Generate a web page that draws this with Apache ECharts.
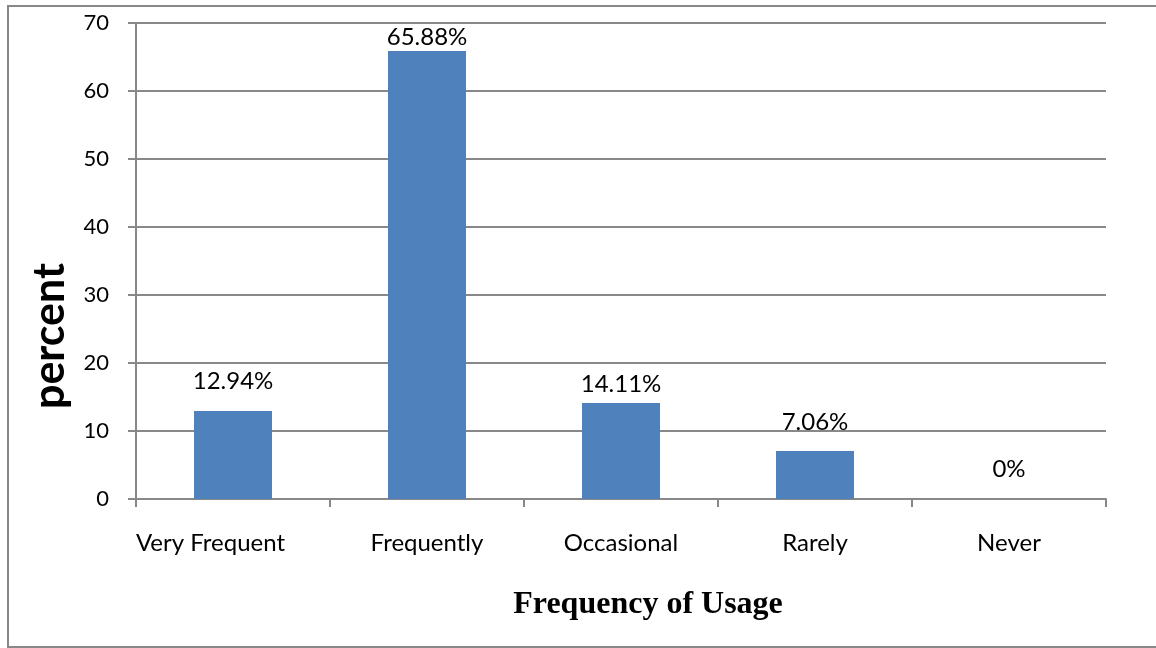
<!DOCTYPE html>
<html>
<head>
<meta charset="utf-8">
<script src="https://cdn.jsdelivr.net/npm/echarts@6/dist/echarts.min.js"></script>
<style>
  html, body { margin: 0; padding: 0; background: #fff; }
  #chart { width: 1156px; height: 648px; }
</style>
</head>
<body>
<div id="chart"></div>
<script>
// Usage frequency categories and their share in percent
const categories = ['Very Frequent', 'Frequently', 'Occasional', 'Rarely', 'Never'];
const percentValues = [12.94, 65.88, 14.11, 7.06, 0];
const valueLabels = ['12.94%', '65.88%', '14.11%', '7.06%', '0%'];
// Gap between each bar top and its label
const labelGaps = [18, 2, 7, 17, 18];

const chart = echarts.init(document.getElementById('chart'));

const barData = percentValues.map((v, i) => ({
  value: v,
  label: { distance: labelGaps[i], formatter: valueLabels[i] }
}));

// The first category label sits a little left of its slot
const categoryData = categories.map((c, i) => (
  i === 0 ? { value: c, textStyle: { padding: [0, 45, 0, 0] } } : c
));

chart.setOption({
  animation: false,
  backgroundColor: '#ffffff',
  grid: { left: 136, right: 50, top: 23, bottom: 149, containLabel: false },
  graphic: [
    {
      type: 'rect',
      shape: { x: 8, y: 6, width: 1160, height: 641 },
      style: { fill: 'none', stroke: '#888888', lineWidth: 2 },
      silent: true
    },
    {
      type: 'text',
      x: 50, y: 336,
      rotation: Math.PI / 2,
      style: {
        text: 'percent',
        font: 'bold 43px Lato, "Open Sans", sans-serif',
        fill: '#000',
        align: 'center',
        verticalAlign: 'middle'
      }
    },
    {
      type: 'text',
      x: 648, y: 605,
      style: {
        text: 'Frequency of Usage',
        font: 'bold 32px "Liberation Serif", "Times New Roman", serif',
        fill: '#000',
        align: 'center',
        verticalAlign: 'middle'
      }
    }
  ],
  xAxis: {
    type: 'category',
    data: categoryData,
    axisLine: { lineStyle: { color: '#888888', width: 2 } },
    axisTick: { show: true, alignWithLabel: false, length: 8, lineStyle: { color: '#888888', width: 2 } },
    axisLabel: {
      margin: 32,
      fontFamily: 'Lato, "Open Sans", sans-serif',
      fontSize: 24,
      color: '#000'
    }
  },
  yAxis: {
    type: 'value',
    min: 0,
    max: 70,
    interval: 10,
    axisLine: { show: true, lineStyle: { color: '#888888', width: 2 } },
    axisTick: { show: true, length: 8, lineStyle: { color: '#888888', width: 2 } },
    splitLine: { show: true, lineStyle: { color: '#888888', width: 2 } },
    axisLabel: {
      margin: 27,
      fontFamily: 'Lato, "Open Sans", sans-serif',
      fontSize: 22,
      color: '#000'
    }
  },
  series: [{
    type: 'bar',
    data: barData,
    barWidth: 78,
    itemStyle: { color: '#4f81bd' },
    label: {
      show: true,
      position: 'top',
      fontFamily: 'Lato, "Open Sans", sans-serif',
      fontSize: 24,
      color: '#000'
    }
  }]
});
</script>
</body>
</html>
